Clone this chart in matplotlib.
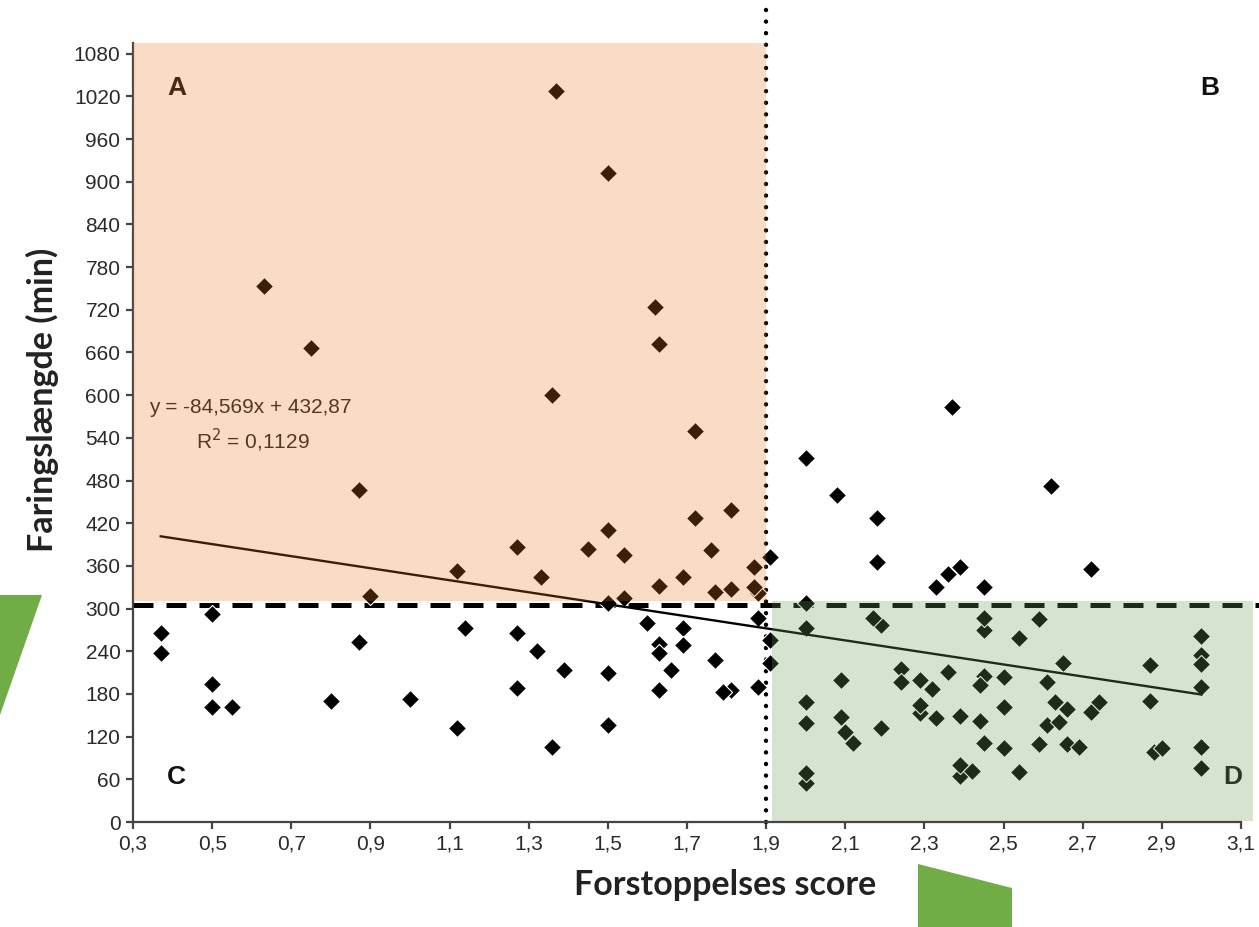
import numpy as np
import matplotlib.pyplot as plt
from matplotlib.patches import Rectangle, Polygon

# --- data (score, labour length in minutes) ---
score_a = [0.63, 0.75, 0.87, 0.90, 1.12, 1.27, 1.33, 1.36, 1.37, 1.45, 1.50, 1.50,
           1.50, 1.54, 1.54, 1.62, 1.63, 1.63, 1.69, 1.72, 1.72, 1.76, 1.77, 1.81,
           1.81, 1.87, 1.88, 1.87, 1.91]
minutes_a = [753, 666, 466, 317, 353, 386, 344, 600, 1028, 384, 912, 411,
             308, 376, 315, 724, 672, 332, 344, 549, 427, 382, 324, 438,
             328, 359, 322, 331, 373]

score_c = [0.37, 0.37, 0.50, 0.50, 0.50, 0.55, 0.80, 0.87, 1.00, 1.12, 1.14, 1.27,
           1.27, 1.32, 1.36, 1.39, 1.50, 1.50, 1.60, 1.63, 1.63, 1.66, 1.63, 1.69,
           1.69, 1.77, 1.81, 1.79, 1.88, 1.88, 1.91, 1.91]
minutes_c = [265, 238, 293, 194, 162, 162, 170, 253, 173, 132, 272, 265,
             189, 241, 106, 213, 210, 137, 280, 250, 238, 213, 186, 272,
             249, 228, 186, 183, 190, 287, 256, 224]

score_b = [2.00, 2.08, 2.18, 2.18, 2.37, 2.39, 2.36, 2.33, 2.45, 2.62, 2.72, 2.00]
minutes_b = [511, 459, 428, 366, 583, 359, 348, 330, 330, 472, 355, 308]

score_d = [2.00, 2.19, 2.17, 2.45, 2.45, 2.00, 2.00, 2.00, 2.00, 2.09, 2.09, 2.10,
           2.12, 2.19, 2.24, 2.24, 2.29, 2.32, 2.29, 2.29, 2.33, 2.36, 2.39, 2.39,
           2.39, 2.42, 2.44, 2.45, 2.44, 2.45, 2.50, 2.50, 2.50, 2.59, 2.54, 3.00,
           3.00, 3.00, 3.00, 2.65, 2.87, 2.61, 2.63, 2.66, 2.72, 2.74, 2.87, 2.61,
           2.64, 2.59, 2.66, 2.69, 2.88, 2.90, 3.00, 3.00, 2.54]
minutes_d = [273, 277, 287, 270, 287, 168, 139, 55, 69, 200, 148, 127,
             111, 132, 215, 197, 200, 187, 153, 165, 146, 211, 149, 64,
             80, 72, 142, 205, 193, 111, 204, 162, 104, 286, 259, 262,
             235, 222, 190, 224, 221, 197, 168, 159, 154, 169, 170, 137,
             141, 110, 110, 106, 98, 104, 106, 76, 70]

slope, intercept = -84.569, 432.87
x_cut, y_cut = 1.9, 305
y_ticks = list(range(0, 1081, 60))
x_ticks = [0.3, 0.5, 0.7, 0.9, 1.1, 1.3, 1.5, 1.7, 1.9, 2.1, 2.3, 2.5, 2.7, 2.9, 3.1]

W, H = 1259, 927
fig = plt.figure(figsize=(W / 100, H / 100), dpi=100)
ax = fig.add_axes([133 / W, 1 - 822 / H, (1241 - 133) / W, (822 - 43) / H])
ax.set_xlim(0.3, 3.1)
ax.set_ylim(0, 1095)

xs = score_a + score_c + score_b + score_d
ys = minutes_a + minutes_c + minutes_b + minutes_d
ax.scatter(xs, ys, marker='D', s=85, color='black', edgecolors='white',
           linewidths=0.8, zorder=3, clip_on=False)

# trend line
tx = np.array([0.37, 3.0])
ax.plot(tx, slope * tx + intercept, color='black', lw=1.7, zorder=4)

# threshold lines
ax.plot([0.3, 3.155], [y_cut, y_cut], color='black', lw=3.6,
        linestyle=(0, (4, 2.6)), zorder=2, clip_on=False)
ax.plot([x_cut, x_cut], [0, 1155], color='black', lw=3.2,
        linestyle=(0, (0.01, 2.6)), dash_capstyle='round', zorder=2, clip_on=False)

# quadrant letters and equation
lab = dict(fontsize=19, fontweight='bold', family='Liberation Sans', color='#111111',
           ha='center', va='center', zorder=5)
ax.text(0.41, 1032, 'A', **lab)
ax.text(3.02, 1032, 'B', **lab)
ax.text(0.41, 63, 'C', **lab)
ax.text(3.08, 63, 'D', **lab)
ax.text(0.34, 582, 'y = -84,569x + 432,87', fontsize=15, family='Liberation Sans',
        color='#222222', ha='left', va='center', zorder=5)
ax.text(0.46, 536, 'R$^2$ = 0,1129', fontsize=15, family='Liberation Sans',
        color='#222222', ha='left', va='center', zorder=5)

# translucent quadrant boxes on top tint markers and lines underneath
ax.add_patch(Rectangle((0.3, 311), x_cut - 0.3, 1095 - 311, facecolor=(0.91, 0.47, 0.14),
                       alpha=0.26, lw=0, zorder=6, clip_on=False))
ax.add_patch(Rectangle((1.915, 2), 3.13 - 1.915, 309, facecolor=(0.42, 0.63, 0.35),
                       alpha=0.28, lw=0, zorder=6, clip_on=False))

# axes styling
for side in ['top', 'right']:
    ax.spines[side].set_visible(False)
for side in ['left', 'bottom']:
    ax.spines[side].set_color('#444444')
    ax.spines[side].set_linewidth(1.6)
ax.set_yticks(y_ticks)
ax.set_xticks(x_ticks)
ax.set_xticklabels([f'{v:.1f}'.replace('.', ',') for v in x_ticks])
ax.tick_params(direction='out', length=5, width=1.6, color='#444444',
               labelsize=15, labelcolor='#2a2a2a', pad=4)
for t in ax.get_xticklabels() + ax.get_yticklabels():
    t.set_family('Liberation Sans')

fig.text(42 / W, 1 - 400 / H, 'Faringslængde (min)', rotation=90, fontsize=24.5,
         fontweight='bold', family='Lato', color='#222222', ha='center', va='center')
fig.text(725 / W, 1 - 885 / H, 'Forstoppelses score', fontsize=24.5,
         fontweight='bold', family='Lato', color='#222222', ha='center', va='center')

# green arrow fragments at the picture edges
green = '#70ad47'
left_shape = [(0, 595), (42, 595), (0, 715)]
bottom_shape = [(918, 864), (1012, 888), (1012, 927), (918, 927)]
for pts in [left_shape, bottom_shape]:
    fig.patches.append(Polygon([(x / W, 1 - y / H) for x, y in pts], closed=True,
                               facecolor=green, lw=0, transform=fig.transFigure))

fig.savefig('out.png', dpi=100)
